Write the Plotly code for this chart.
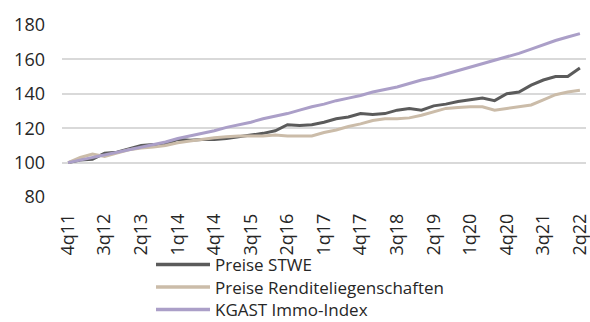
import plotly.graph_objects as go

# Quarter labels 4q11 .. 2q22
quarters = []
for y in range(11, 23):
    for q in range(1, 5):
        if (y == 11 and q < 4) or (y == 22 and q > 2):
            continue
        quarters.append(f"{q}q{y:02d}")

stwe = [100, 101.5, 102, 105.5, 106, 108, 110, 110.5, 110.5, 113.5,
        113, 113.5, 113.5, 114, 115, 116, 117, 118.5, 122, 121.5,
        122, 123.5, 125.5, 126.5, 128.5, 128, 128.5, 130.5, 131.5, 130.5,
        133, 134, 135.5, 136.5, 137.5, 136, 140, 141, 145, 148,
        150, 150, 155]

rendite = [100, 103, 105, 103.5, 105.5, 107.5, 108.5, 109, 110, 111.5,
           112.5, 113.5, 114.5, 115, 115.5, 115.5, 115.5, 116, 115.5, 115.5,
           115.5, 117.5, 119, 121, 122.5, 124.5, 125.5, 125.5, 126, 127.5,
           129.5, 131.5, 132, 132.5, 132.5, 130.5, 131.5, 132.5, 133.5, 136.5,
           139.5, 141, 142]

kgast = [100, 101.5, 103, 104.5, 106, 107.5, 109, 110.5, 112, 114,
         115.5, 117, 118.5, 120.5, 122, 123.5, 125.5, 127, 128.5, 130.5,
         132.5, 134, 136, 137.5, 139, 141, 142.5, 144, 146, 148,
         149.5, 151.5, 153.5, 155.5, 157.5, 159.5, 161.5, 163.5, 166, 168.5,
         171, 173, 175]

series_names = ["Preise STWE", "Preise Renditeliegenschaften", "KGAST Immo-Index"]
series_values = [stwe, rendite, kgast]
series_colors = ["#5b5b5b", "#cbbca9", "#ab9fc8"]

font_family = "Open Sans, Noto Sans, sans-serif"
text_color = "#262626"

W, H = 590, 322
L, R, T, B = 62, 4, 25, 125
plot_w = W - L - R
plot_h = H - T - B

fig = go.Figure()
for name, vals, color in zip(series_names, series_values, series_colors):
    fig.add_trace(go.Scatter(
        x=quarters, y=vals, mode="lines", name=name,
        line=dict(color=color, width=3), showlegend=False,
    ))

# Legend below the plot: short line sample followed by the series name
leg_line_x0, leg_line_x1, leg_text_x = 156, 210, 214
leg_rows = [264.5, 287, 309.5]
for name, color, row in zip(series_names, series_colors, leg_rows):
    ypap = (T + plot_h - row) / plot_h
    fig.add_shape(
        type="line", xref="paper", yref="paper",
        x0=(leg_line_x0 - L) / plot_w, x1=(leg_line_x1 - L) / plot_w,
        y0=ypap, y1=ypap,
        line=dict(color=color, width=3.5),
    )
    fig.add_annotation(
        xref="paper", yref="paper",
        x=(leg_text_x - L) / plot_w, y=ypap,
        xanchor="left", yanchor="middle",
        text=name, showarrow=False, borderpad=0,
        font=dict(size=17, color=text_color, family=font_family),
    )

fig.update_layout(
    width=W, height=H,
    margin=dict(l=L, r=R, t=T, b=B),
    paper_bgcolor="white", plot_bgcolor="white",
    font=dict(family=font_family, size=18, color=text_color),
    showlegend=False,
    xaxis=dict(
        type="category",
        range=[-0.5, len(quarters) - 0.5],
        tickmode="array",
        tickvals=quarters[::3],
        ticktext=quarters[::3],
        tickangle=-90,
        tickfont=dict(size=18, color=text_color),
        showgrid=False, showline=False, ticks="",
        zeroline=False, automargin=False,
        ticklabelstandoff=12,
    ),
    yaxis=dict(
        range=[80, 180],
        tickmode="array",
        tickvals=[80, 100, 120, 140, 160, 180],
        tickfont=dict(size=18, color=text_color),
        showgrid=True, gridcolor="#d9d9d9", gridwidth=1.5,
        zeroline=False, showline=False, ticks="",
        automargin=False,
        ticklabelstandoff=16,
    ),
)

fig.write_html("out.html")
